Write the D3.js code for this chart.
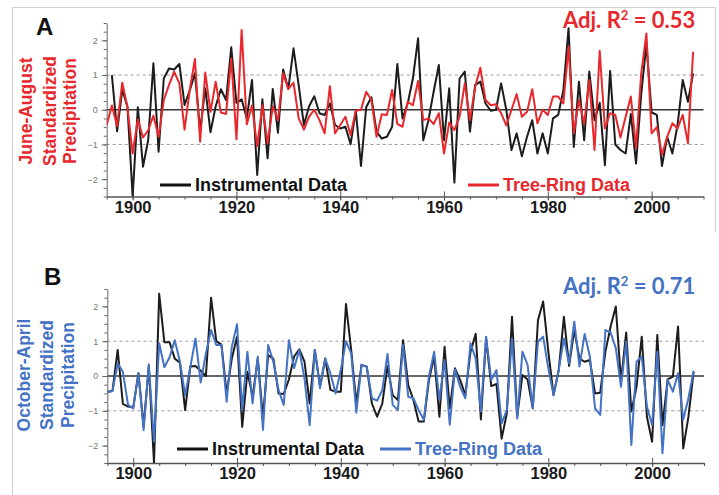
<!DOCTYPE html>
<html>
<head>
<meta charset="utf-8">
<script src="https://cdn.jsdelivr.net/npm/d3@7"></script>
<style>
  body { margin: 0; background: #fff; }
  svg { display: block; }
</style>
</head>
<body>
<svg id="chart" width="719" height="495"></svg>
<script>
// years 1895..2008
var years = d3.range(1895, 2009);

// June-August (panel A), instrumental starts 1896
var instJJA = [
  null, 1.0, -0.62, 0.57, 0.09,
  -2.5, 0.07, -1.64, -0.87, 1.34, -1.21, 0.9, 1.19, 1.16, 1.32,
  0.14, 0.55, 1.05, -0.6, 0.62, -0.65, 0.1, 0.59, 0.28, 1.8,
  0.2, 0.3, -0.25, 0.86, -1.88, 0.3, -1.4, 0.6, -0.66, 1.16,
  0.6, 1.77, 0.7, -0.44, 0.1, 0.39, -0.1, -0.15, 0.18, -0.44,
  -0.54, -0.49, -0.99, -0.03, -1.62, 0.07, 0.36, -0.63, -0.83, -0.78,
  -0.49, 1.32, -0.25, 0.18, 0.9, 2.06, -0.88, -0.3, 0.52, 1.29,
  -0.88, 0.62, -2.1, 0.9, 1.1, -0.63, 0.71, 0.81, 0.18, -0.03,
  0.0, 0.76, 0.0, -1.16, -0.68, -1.34, -0.78, -0.3, -1.26, -0.68,
  -1.26, -0.25, -0.15, 0.57, 2.35, -1.07, 0.81, -0.88, 1.1, -0.3,
  0.2, -1.6, 1.12, -1.0, -1.16, -1.26, -0.12, -1.55, 0.45, 1.9,
  -0.08, -0.15, -1.62, -0.78, -1.26, -0.44, 0.86, 0.23, 1.05
];
var treeJJA = [
  -0.44, 0.12, -0.47, 0.78, 0.07,
  -1.26, -0.28, -0.8, -0.59, -0.17, -0.78, 0.28, 0.71, 1.1, 0.76,
  -0.57, 0.57, 1.46, -0.92, 1.07, -0.06, 0.81, -0.08, -0.12, 1.48,
  -0.85, 2.3, -0.42, 0.12, -1.05, 0.13, -0.97, 0.1, -0.3, 1.05,
  0.6, 0.78, -0.25, -0.57, -0.2, 0.0, -0.3, -0.68, 0.68, -0.68,
  -0.44, -0.2, -0.73, -0.03, 0.0, 0.52, 0.28, -0.78, -0.13, -0.15,
  0.57, -0.41, -0.49, 0.23, 0.13, 0.83, -0.3, -0.25, -0.41, -0.1,
  -1.26, -0.37, -0.59, -0.2, 0.76, -0.3, 0.66, 1.21, 0.28, 0.13,
  0.16, -0.1, -0.45, 0.0, 0.45, -0.2, -0.06, 0.59, -0.39, 0.0,
  -0.15, 0.38, 0.38, 0.18, 1.82, -0.68, 0.28, -0.4, 0.86, -1.16,
  1.7, -0.54, -0.1, -0.15, -0.8, -0.2, 0.38, -1.1, 1.05, 2.2,
  -0.68, -0.5, -1.3, -0.78, -0.39, -0.54, -0.15, -0.97, 1.67
];

// October-April (panel B)
var instOA = [
  -0.45, -0.43, 0.75, -0.8, -0.88,
  -0.9, 0.08, -1.45, 0.3, -2.5, 2.36, 0.97, 0.97, 0.5, 0.38,
  -0.98, 0.27, 0.29, 0.15, 0.0, 2.25, 1.0, 0.9, -0.5, 0.5,
  1.13, -1.46, 0.12, -0.6, 0.5, -1.2, 0.6, 0.5, -0.5, -0.52,
  -0.1, 0.56, 0.77, 0.41, -0.79, 0.75, -0.3, 0.5, -0.4, -0.45,
  -0.45, 2.07, 0.75, -0.79, 0.32, 0.27, -0.79, -1.17, -0.79, 0.29,
  -0.55, -0.69, 1.03, -0.26, -0.69, -1.31, -1.31, -0.11, 0.56, -1.17,
  0.84, -0.93, 0.22, -0.11, -0.55, 0.7, 1.21, -1.25, 1.08, -0.29,
  -0.23, -1.8, -1.07, 1.7, -1.17, 0.03, -0.1, -0.93, 1.6, 2.14,
  0.7, -0.55, 0.17, 1.7, 0.29, 1.32, 0.5, 0.41, 0.46, -0.5,
  -0.48, 0.7, 1.42, 2.0, -0.16, 1.25, -1.02, -0.31, 1.13, -1.17,
  -1.89, 1.18, -1.41, -0.1, -0.02, 1.42, -2.08, -1.17, 0.12
];
var treeOA = [
  -0.47, -0.43, 0.36, 0.12, -0.83,
  -0.93, 0.08, -1.55, 0.33, -1.88, 0.94, 0.25, 0.54, 1.03, 0.41,
  -0.55, 0.25, 1.08, -0.19, 0.65, 1.32, 0.89, 0.89, -0.74, 0.84,
  1.49, -0.98, 0.7, -0.79, 0.56, -1.55, 0.89, 0.41, -0.4, -0.83,
  1.03, 0.22, 0.75, -0.07, -1.41, 0.75, -0.35, 0.5, 0.08, -0.5,
  0.17, 1.0, 0.65, -1.05, 0.32, 0.27, -0.64, -0.71, -0.4, 0.63,
  -0.83, -0.98, 0.89, -0.6, -0.64, -0.98, -1.26, 0.0, 0.7, -0.69,
  0.46, -1.4, 0.19, -0.31, -0.64, 0.94, 0.5, -1.02, 1.13, -0.11,
  0.17, -1.36, -0.98, 1.08, -1.22, 0.7, 0.32, -0.93, 0.99, 1.13,
  0.22, -0.55, 0.17, 1.08, 0.36, 1.56, 0.27, 1.21, 0.56, -0.93,
  -1.12, 1.32, 1.25, 0.8, -0.31, 0.99, -1.98, 0.41, 0.56, -0.88,
  -1.41, 0.7, -2.22, -0.11, -0.45, 0.08, -1.26, -0.64, 0.15
];

var xTicks = [1900, 1920, 1940, 1960, 1980, 2000];
var yTicks = [-2, -1, 0, 1, 2];
var legendLabels = ["Instrumental Data", "Tree-Ring Data"];

var svg = d3.select("#chart");
var font = "'Liberation Sans', Arial, sans-serif";

// light frame around the figure
svg.append("path")
  .attr("d", "M12.5,495 V7.5 H715.5 V232")
  .attr("fill", "none").attr("stroke", "#cfcfcf").attr("stroke-width", 1);

function drawPanel(opt) {
  var x = d3.scaleLinear().domain([1895, 2010]).range([opt.left, opt.right]);
  var y = d3.scaleLinear().domain([-2.5, 2.5]).range([opt.bottom, opt.top]);
  var g = svg.append("g");

  // reference lines
  g.selectAll(".ref").data([-1, 1]).enter().append("line")
    .attr("x1", opt.left).attr("x2", opt.right)
    .attr("y1", function(d) { return y(d); }).attr("y2", function(d) { return y(d); })
    .attr("stroke", "#9a9a9a").attr("stroke-width", 1).attr("stroke-dasharray", "3,3");
  g.append("line")
    .attr("x1", opt.left).attr("x2", opt.right)
    .attr("y1", y(0)).attr("y2", y(0))
    .attr("stroke", "#333").attr("stroke-width", 1.3);

  // y axis: minor then major
  g.append("g").attr("transform", "translate(" + opt.left + ",0)")
    .call(d3.axisLeft(y).tickValues(d3.range(-2.5, 2.51, 0.25)).tickSize(3).tickSizeOuter(0).tickFormat(""))
    .call(function(a) { a.selectAll("path,line").attr("stroke", "#666"); });
  var ya = g.append("g").attr("transform", "translate(" + opt.left + ",0)")
    .call(d3.axisLeft(y).tickValues(yTicks).tickSize(5).tickSizeOuter(0).tickPadding(4).tickFormat(d3.format("d")));
  ya.select(".domain").remove();
  ya.selectAll("line").attr("stroke", "#666");
  ya.selectAll("text").attr("fill", "#777").style("font", "9px " + font);

  // x axis
  var xa = g.append("g").attr("transform", "translate(0," + opt.bottom + ")")
    .call(d3.axisBottom(x).tickValues(d3.range(1895, 2011, 5)).tickSize(3).tickSizeOuter(0).tickFormat(""));
  xa.selectAll("path,line").attr("stroke", "#555");
  xa.select(".domain").attr("stroke-width", 1.3);
  var xm = g.append("g").attr("transform", "translate(0," + opt.bottom + ")")
    .call(d3.axisBottom(x).tickValues(xTicks).tickSize(4).tickSizeOuter(0).tickFormat(d3.format("d")));
  xm.select(".domain").remove();
  xm.selectAll("line").attr("y1", -5).attr("stroke", "#555");
  xm.selectAll("text").attr("y", 16).attr("dy", null)
    .attr("fill", "#1a1a1a").style("font", "bold 16.5px " + font);

  // series
  var line = d3.line()
    .defined(function(d) { return d[1] != null; })
    .x(function(d) { return x(d[0]); })
    .y(function(d) { return y(d[1]); });
  var clipId = "clip" + opt.name;
  svg.append("clipPath").attr("id", clipId).append("rect")
    .attr("x", opt.left).attr("y", opt.top - 2).attr("width", opt.right - opt.left).attr("height", opt.bottom - opt.top + 2);
  g.append("path").datum(d3.zip(years, opt.inst))
    .attr("clip-path", "url(#" + clipId + ")")
    .attr("d", line).attr("fill", "none").attr("stroke", "#1c1c1c").attr("stroke-width", 2)
    .attr("stroke-linejoin", "round");
  g.append("path").datum(d3.zip(years, opt.tree))
    .attr("clip-path", "url(#" + clipId + ")")
    .attr("d", line).attr("fill", "none").attr("stroke", opt.color).attr("stroke-width", 2)
    .attr("stroke-linejoin", "round");

  // legend
  var lg = g.append("g").style("font", "bold 18px " + font);
  var cols = ["#111", opt.color];
  opt.legend.forEach(function(p, i) {
    lg.append("line").attr("x1", p[0]).attr("x2", p[0] + 31).attr("y1", opt.legendY).attr("y2", opt.legendY)
      .attr("stroke", cols[i]).attr("stroke-width", 3);
    lg.append("text").attr("x", p[0] + 35).attr("y", opt.legendY + 6).attr("fill", cols[i])
      .text(legendLabels[i]);
  });

  // adjusted R2
  var rt = g.append("text").attr("x", 563).attr("y", opt.top + 5).attr("fill", opt.color)
    .style("font", "bold 22px Lato, 'Open Sans', sans-serif");
  rt.append("tspan").text("Adj. R");
  rt.append("tspan").attr("dy", -8).style("font-size", "13px").text("2");
  rt.append("tspan").attr("dy", 8).text(" = " + opt.r2);

  // panel letter
  g.append("text").attr("x", opt.letterX).attr("y", opt.letterY).attr("fill", "#111")
    .style("font", "bold 24px " + font).text(opt.name);

  // y label
  var cy = opt.labelCY;
  opt.ylabel.forEach(function(t, i) {
    g.append("text")
      .attr("transform", "translate(" + opt.labelX[i] + "," + cy + ") rotate(-90)")
      .attr("text-anchor", "middle").attr("fill", opt.color)
      .style("font", "bold 17.5px " + font).text(t);
  });
}

drawPanel({
  name: "A", left: 106.7, right: 703.5, top: 23, bottom: 196.5,
  inst: instJJA, tree: treeJJA, color: "#e8282c", r2: "0.53",
  legend: [[160, 0], [468, 0]], legendY: 185,
  letterX: 36, letterY: 35,
  ylabel: ["June-August", "Standardized", "Precipitation"], labelX: [32, 55.5, 76], labelCY: 111
});

drawPanel({
  name: "B", left: 107.3, right: 704, top: 289, bottom: 463,
  inst: instOA, tree: treeOA, color: "#4472c4", r2: "0.71",
  legend: [[177, 0], [380, 0]], legendY: 449,
  letterX: 44, letterY: 285,
  ylabel: ["October-April", "Standardized", "Precipitation"], labelX: [30, 53, 74], labelCY: 375
});
</script>
</body>
</html>
